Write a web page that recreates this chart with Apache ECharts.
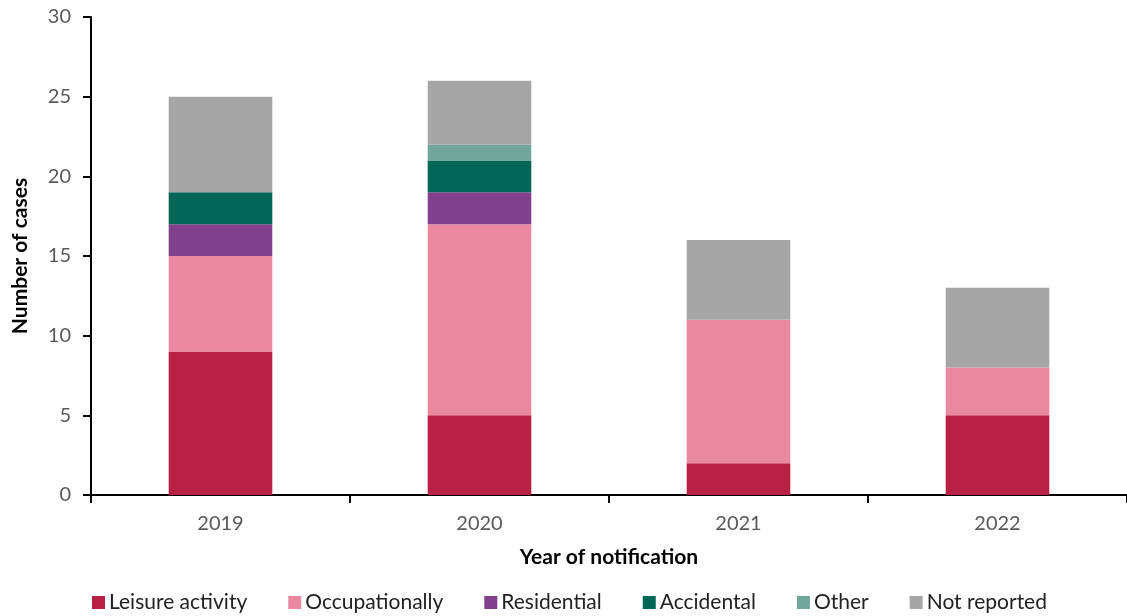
<!DOCTYPE html>
<html>
<head>
<meta charset="utf-8">
<script src="https://cdn.jsdelivr.net/npm/echarts@6/dist/echarts.min.js"></script>
<style>
  html, body { margin: 0; padding: 0; background: #fff; }
  #main { width: 1127px; height: 616px; }
</style>
</head>
<body>
<div id="main"></div>
<script>
const years = ["2019", "2020", "2021", "2022"];
const leisure = [9, 5, 2, 5];
const occupational = [6, 12, 9, 3];
const residential = [2, 2, 0, 0];
const accidental = [2, 2, 0, 0];
const other = [0, 1, 0, 0];
const notReported = [6, 4, 5, 5];

const seriesDefs = [
  { name: "Leisure activity", data: leisure, color: "#B82045" },
  { name: "Occupationally", data: occupational, color: "#EA88A0" },
  { name: "Residential", data: residential, color: "#82418C" },
  { name: "Accidental", data: accidental, color: "#006756" },
  { name: "Other", data: other, color: "#71A69A" },
  { name: "Not reported", data: notReported, color: "#A6A6A6" }
];

const font = "Lato, 'Open Sans', sans-serif";

var chartDom = document.getElementById("main");
var myChart = echarts.init(chartDom);

const option = {
  animation: false,
  textStyle: { fontFamily: font },
  grid: { left: 91, right: -4, top: 17, bottom: 121 },
  legend: {
    bottom: -2,
    left: 87,
    itemWidth: 13,
    itemHeight: 13,
    itemGap: 41,
    icon: "rect",
    textStyle: { fontSize: 21, color: "#222", fontFamily: font, padding: [0, 0, 0, -1] },
    data: seriesDefs.map(s => s.name)
  },
  xAxis: {
    type: "category",
    data: years,
    name: "Year of notification",
    nameLocation: "middle",
    nameGap: 52,
    nameTextStyle: { fontSize: 21, fontWeight: "bold", color: "#000", fontFamily: font },
    axisLine: { lineStyle: { color: "#000", width: 2 } },
    axisTick: { show: true, length: 8, lineStyle: { color: "#000", width: 2 } },
    axisLabel: { fontSize: 20, color: "#595959", margin: 19 }
  },
  yAxis: {
    type: "value",
    min: 0,
    max: 30,
    interval: 5,
    name: "Number of cases",
    nameLocation: "middle",
    nameGap: 60,
    nameTextStyle: { fontSize: 21, fontWeight: "bold", color: "#000", fontFamily: font },
    axisLine: { show: true, lineStyle: { color: "#000", width: 2 } },
    axisTick: { show: true, length: 8, lineStyle: { color: "#000", width: 2 } },
    axisLabel: { fontSize: 20, color: "#595959", margin: 20 },
    splitLine: { show: false }
  },
  series: seriesDefs.map(s => ({
    name: s.name,
    type: "bar",
    stack: "total",
    barWidth: "40%",
    data: s.data,
    itemStyle: { color: s.color }
  }))
};

myChart.setOption(option);
</script>
</body>
</html>
